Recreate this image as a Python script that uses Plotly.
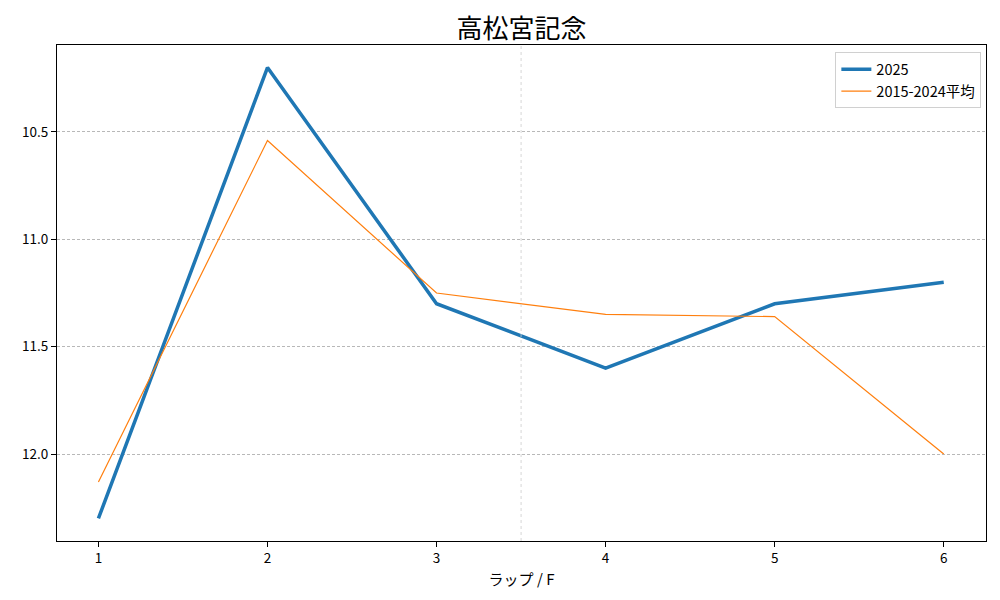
import plotly.graph_objects as go

laps = [1, 2, 3, 4, 5, 6]
lap_2025 = [12.3, 10.2, 11.3, 11.6, 11.3, 11.2]
lap_avg = [12.13, 10.54, 11.25, 11.35, 11.36, 12.0]
mid_lap = 3.5

fig = go.Figure()
fig.add_trace(go.Scatter(x=laps, y=lap_2025, mode="lines", name="2025",
                         line=dict(color="#1f77b4", width=3.5)))
fig.add_trace(go.Scatter(x=laps, y=lap_avg, mode="lines", name="2015-2024平均",
                         line=dict(color="#ff7f0e", width=1.2)))

# vertical marker between laps 3 and 4
fig.add_vline(x=mid_lap, line=dict(color="#cccccc", width=0.8, dash="dot"))

# page body adds ~7px offset, so margins are shifted to compensate
fig.update_layout(
    width=1000, height=600,
    paper_bgcolor="white", plot_bgcolor="white",
    font=dict(family="Noto Sans CJK JP", size=14, color="black"),
    title=dict(text="高松宮記念", xref="paper", x=0.5, xanchor="center",
               yref="container", y=0.965, yanchor="middle",
               font=dict(size=26)),
    margin=dict(l=49, r=22, t=37, b=67, autoexpand=False),
    legend=dict(x=0.995, y=0.985, xanchor="right", yanchor="top",
                bgcolor="white", bordercolor="#d0d0d0", borderwidth=1,
                font=dict(size=14.5)),
    showlegend=True,
)
fig.update_xaxes(title_text="ラップ / F", title_standoff=8, title_font_size=15,
                 range=[0.755, 6.25], tickfont=dict(size=13.5),
                 tickvals=laps, showgrid=False, zeroline=False, automargin=False,
                 showline=True, linecolor="black", linewidth=1, mirror=True,
                 ticks="outside", ticklen=5, tickcolor="black")
fig.update_yaxes(range=[12.405, 10.095], tickvals=[10.5, 11.0, 11.5, 12.0],
                 tickformat=".1f", tickfont=dict(size=13.5),
                 showgrid=True, gridcolor="#b8b8b8",
                 griddash="3px,2px", gridwidth=0.5, zeroline=False, automargin=False,
                 showline=True, linecolor="black", linewidth=1, mirror=True,
                 ticks="outside", ticklen=5, tickcolor="black")

fig.write_html("out.html")
